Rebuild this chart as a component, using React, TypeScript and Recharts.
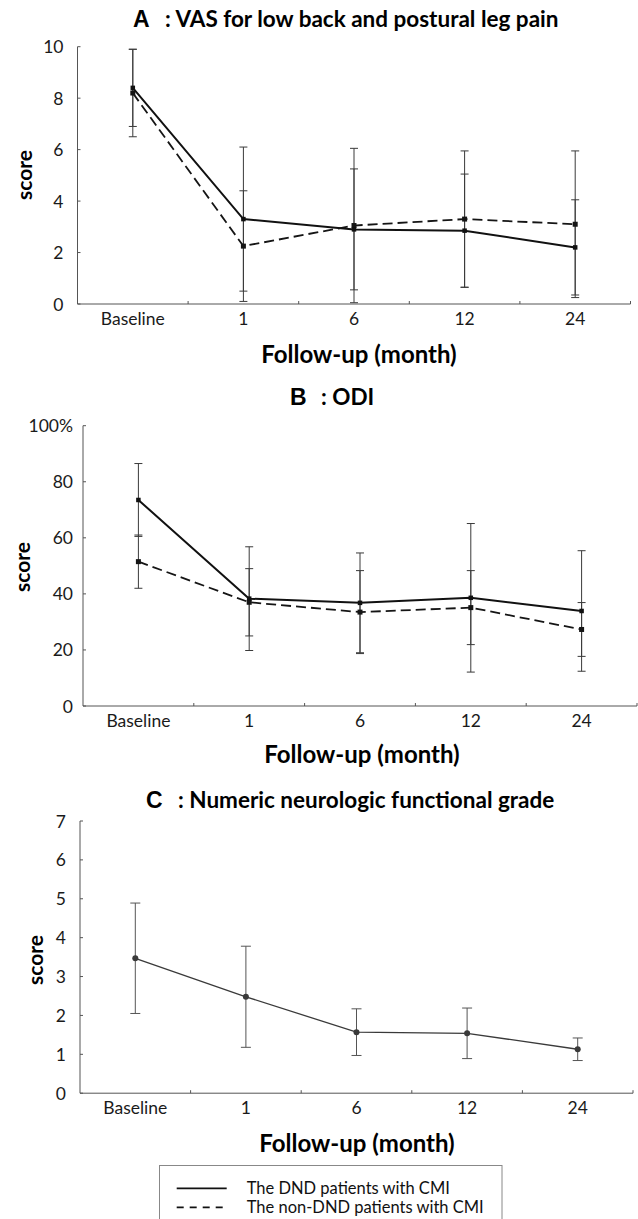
import React from 'react';
import { LineChart, Line, XAxis, YAxis, ErrorBar } from 'recharts';

// ---------- data ----------
const categories = ['Baseline', '1', '6', '12', '24'];

// A: VAS
const vasDnd = [8.4, 3.3, 2.9, 2.85, 2.2];
const vasDndSd = [1.5, 2.8, 2.35, 2.2, 1.85];
const vasNonDnd = [8.2, 2.25, 3.05, 3.3, 3.1];
const vasNonDndSd = [1.7, 2.15, 3.0, 2.65, 2.85];
const vasTicks = [0, 2, 4, 6, 8, 10];

// B: ODI
const odiDnd = [73.5, 38.3, 36.8, 38.6, 33.9];
const odiDndSd = [13, 18.5, 17.8, 26.5, 21.5];
const odiNonDnd = [51.5, 37, 33.5, 35.1, 27.3];
const odiNonDndSd = [9.5, 12, 14.8, 13.2, 9.6];
const odiTicks = [0, 20, 40, 60, 80, 100];

// C: numeric neurologic functional grade
const nnfg = [3.47, 2.48, 1.57, 1.54, 1.13];
const nnfgSd = [1.42, 1.3, 0.6, 0.65, 0.29];
const nnfgTicks = [0, 1, 2, 3, 4, 5, 6, 7];

const legendLabels = ['The DND patients with CMI', 'The non-DND patients with CMI'];

// ---------- helpers ----------
const FONT = 'Lato, "Noto Sans", sans-serif';
const AXIS = '#555';
const TICK_FS = 17.5;

const xTicks: number[] = [];
categories.forEach((_, i) => {
  xTicks.push(i, i + 0.5);
});
xTicks.push(categories.length);

const XTick = (props: any) => {
  const { x, y, payload } = props;
  const v = payload.value;
  if (Number.isInteger(v)) {
    if (v === 0) return <g />;
    return <line x1={x} x2={x} y1={y} y2={y - 3} stroke={AXIS} strokeWidth={1} />;
  }
  return (
    <text x={x} y={y + 14} textAnchor="middle" dominantBaseline="central" fontFamily={FONT} fontSize={TICK_FS} fill="#1a1a1a">
      {categories[Math.floor(v)]}
    </text>
  );
};

const makeYTick = (gap: number, fmt: (v: number) => string) => (props: any) => {
  const { x, y, payload } = props;
  return (
    <g>
      <line x1={x} x2={x + 3} y1={y} y2={y} stroke={AXIS} strokeWidth={1} />
      <text x={x - gap} y={y} textAnchor="end" dominantBaseline="central" fontFamily={FONT} fontSize={TICK_FS} fill="#1a1a1a">
        {fmt(payload.value)}
      </text>
    </g>
  );
};

const makeDot = (shape: 'square' | 'circle', size: number, color: string) => (props: any) => {
  const { cx, cy, index } = props;
  if (cx == null || cy == null) return <g key={`d${index}`} />;
  if (shape === 'square') {
    return <rect key={`d${index}`} x={cx - size / 2} y={cy - size / 2} width={size} height={size} fill={color} />;
  }
  return <circle key={`d${index}`} cx={cx} cy={cy} r={size / 2} fill={color} />;
};

type SeriesDef = {
  key: string;
  errKey: string;
  dash?: string;
  color: string;
  width: number;
  dotShape: 'square' | 'circle';
  dotSize: number;
  errColor: string;
  cap: number;
};

type PanelProps = {
  top: number;
  height: number;
  plotTop: number;
  plotBottom: number;
  plotLeft: number;
  plotRight: number;
  yDomain: [number, number];
  yTicks: number[];
  yGap: number;
  yFmt: (v: number) => string;
  data: any[];
  series: SeriesDef[];
};

const Panel = (p: PanelProps) => {
  const xAxisHeight = p.top + p.height - p.plotBottom;
  return (
    <div style={{ position: 'absolute', left: 0, top: p.top, width: 638, height: p.height }}>
      <LineChart
        width={638}
        height={p.height}
        data={p.data}
        margin={{ top: p.plotTop - p.top, right: 638 - p.plotRight, bottom: 0, left: 0 }}
      >
        <XAxis
          dataKey="x"
          type="number"
          domain={[0, categories.length]}
          ticks={xTicks}
          interval={0}
          tickSize={0}
          tickMargin={0}
          height={xAxisHeight}
          axisLine={{ stroke: AXIS, strokeWidth: 1 }}
          tickLine={false}
          tick={XTick}
        />
        <YAxis
          type="number"
          domain={p.yDomain}
          ticks={p.yTicks}
          interval={0}
          tickSize={0}
          tickMargin={0}
          width={p.plotLeft}
          axisLine={{ stroke: AXIS, strokeWidth: 1 }}
          tickLine={false}
          tick={makeYTick(p.yGap, p.yFmt)}
        />
        {p.series.map((s) => (
          <Line
            key={s.key}
            type="linear"
            dataKey={s.key}
            stroke={s.color}
            strokeWidth={s.width}
            strokeDasharray={s.dash}
            dot={makeDot(s.dotShape, s.dotSize, s.color)}
            activeDot={false}
            isAnimationActive={false}
          >
            <ErrorBar dataKey={s.errKey} width={s.cap} stroke={s.errColor} strokeWidth={1} direction="y" isAnimationActive={false} />
          </Line>
        ))}
      </LineChart>
    </div>
  );
};

const vasData = categories.map((c, i) => ({
  x: i + 0.5,
  cat: c,
  dnd: vasDnd[i],
  dndSd: vasDndSd[i],
  non: vasNonDnd[i],
  nonSd: vasNonDndSd[i],
}));
const odiData = categories.map((c, i) => ({
  x: i + 0.5,
  cat: c,
  dnd: odiDnd[i],
  dndSd: odiDndSd[i],
  non: odiNonDnd[i],
  nonSd: odiNonDndSd[i],
}));
const nnfgData = categories.map((c, i) => ({
  x: i + 0.5,
  cat: c,
  grade: nnfg[i],
  gradeSd: nnfgSd[i],
}));

const twoSeries: SeriesDef[] = [
  { key: 'non', errKey: 'nonSd', dash: '10 5', color: '#151515', width: 1.8, dotShape: 'square', dotSize: 5, errColor: '#3a3a3a', cap: 4 },
  { key: 'dnd', errKey: 'dndSd', color: '#111', width: 2, dotShape: 'square', dotSize: 4.5, errColor: '#3a3a3a', cap: 4 },
];
const oneSeries: SeriesDef[] = [
  { key: 'grade', errKey: 'gradeSd', color: '#3a3a3a', width: 1.3, dotShape: 'circle', dotSize: 6, errColor: '#555', cap: 5 },
];

const Title = ({ letter, lx, tx, y, text }: { letter: string; lx: number; tx: number; y: number; text: string }) => (
  <g>
    <text x={lx} y={y} fontFamily='"Liberation Sans", Arial, sans-serif' fontWeight="bold" fontSize={23} fill="#000">
      {letter}
    </text>
    <text x={tx} y={y} fontFamily={FONT} fontWeight="bold" fontSize={22.5} fill="#000">
      {text}
    </text>
  </g>
);

const ScoreLabel = ({ x, y }: { x: number; y: number }) => (
  <text
    x={x}
    y={y}
    transform={`rotate(-90 ${x} ${y})`}
    textAnchor="middle"
    dominantBaseline="central"
    fontFamily={FONT}
    fontWeight="bold"
    fontSize={21}
    fill="#000"
  >
    score
  </text>
);

const XLabel = ({ x, y }: { x: number; y: number }) => (
  <text x={x} y={y} textAnchor="middle" dominantBaseline="central" fontFamily={FONT} fontWeight="bold" fontSize={24} fill="#000">
    Follow-up (month)
  </text>
);

export default function App() {
  return (
    <div style={{ position: 'absolute', left: 0, top: 0, width: 638, height: 1219, background: '#fff', overflow: 'hidden' }}>
      <Panel
        top={0}
        height={345}
        plotTop={46.7}
        plotBottom={304}
        plotLeft={77.5}
        plotRight={630.5}
        yDomain={[0, 10]}
        yTicks={vasTicks}
        yGap={14}
        yFmt={(v) => String(v)}
        data={vasData}
        series={twoSeries}
      />
      <Panel
        top={410}
        height={330}
        plotTop={425.7}
        plotBottom={706}
        plotLeft={83}
        plotRight={637}
        yDomain={[0, 100]}
        yTicks={odiTicks}
        yGap={10}
        yFmt={(v) => (v === 100 ? '100%' : String(v))}
        data={odiData}
        series={twoSeries}
      />
      <Panel
        top={810}
        height={320}
        plotTop={821}
        plotBottom={1093.2}
        plotLeft={80}
        plotRight={633}
        yDomain={[0, 7]}
        yTicks={nnfgTicks}
        yGap={14}
        yFmt={(v) => String(v)}
        data={nnfgData}
        series={oneSeries}
      />
      <svg width={638} height={1219} style={{ position: 'absolute', left: 0, top: 0, pointerEvents: 'none' }}>
        <Title letter="A" lx={133} tx={165} y={27} text=": VAS for low back and postural leg pain" />
        <Title letter="B" lx={290} tx={321} y={405} text=": ODI" />
        <Title letter="C" lx={146} tx={178} y={808} text=": Numeric neurologic functional grade" />

        <ScoreLabel x={23.5} y={175} />
        <ScoreLabel x={21.5} y={567} />
        <ScoreLabel x={34} y={960} />

        <XLabel x={359} y={353} />
        <XLabel x={362} y={753} />
        <XLabel x={357} y={1142} />

        <rect x={159.5} y={1165.5} width={342.5} height={80} fill="#fff" stroke="#888" strokeWidth={1} />
        <line x1={176.7} x2={226.7} y1={1188.3} y2={1188.3} stroke="#111" strokeWidth={1.8} />
        <line x1={176.7} x2={226.7} y1={1207.3} y2={1207.3} stroke="#111" strokeWidth={1.8} strokeDasharray="7 6" />
        <text x={246.7} y={1188.3} dominantBaseline="central" fontFamily={FONT} fontSize={16.5} fill="#111">
          {legendLabels[0]}
        </text>
        <text x={246.7} y={1207.3} dominantBaseline="central" fontFamily={FONT} fontSize={16.5} fill="#111">
          {legendLabels[1]}
        </text>
      </svg>
    </div>
  );
}
